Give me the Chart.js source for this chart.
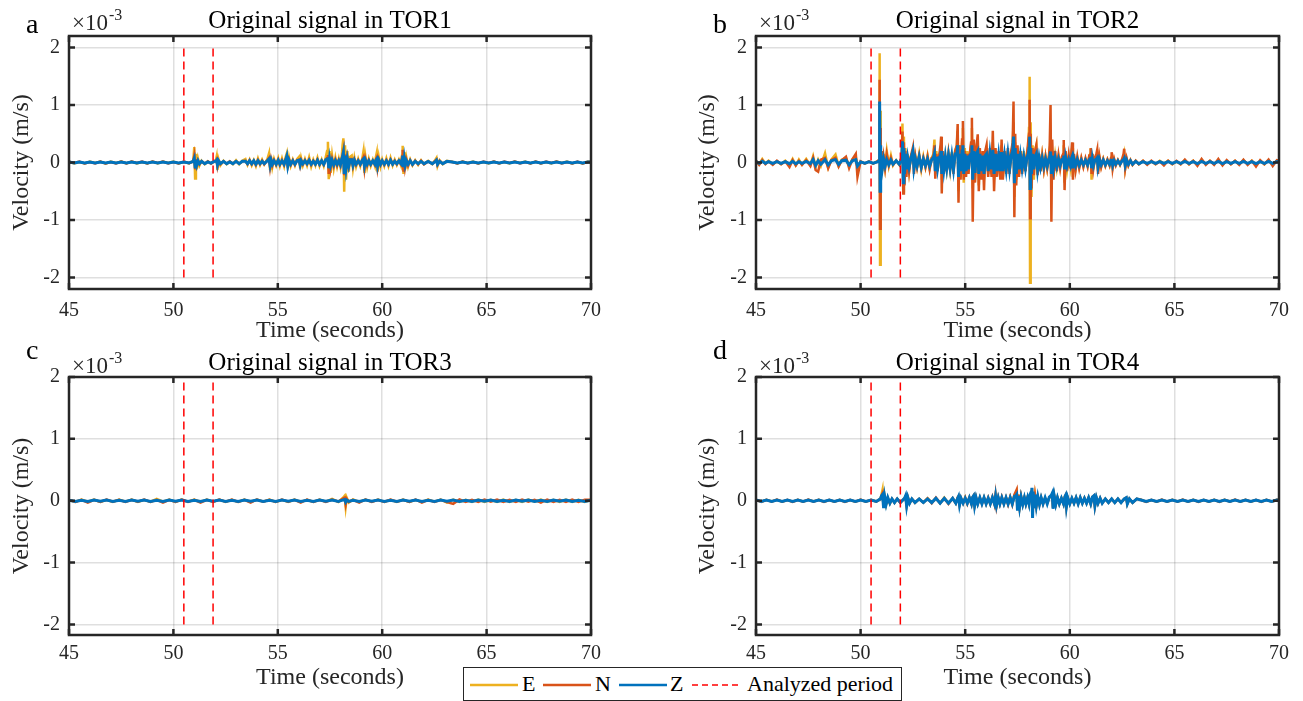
<!DOCTYPE html>
<html>
<head>
<meta charset="utf-8">
<script src="https://cdn.jsdelivr.net/npm/chart.js@4.4.1/dist/chart.umd.min.js"></script>
<style>
  body { margin: 0; background: #fff; width: 1303px; height: 701px; position: relative; overflow: hidden; }
  canvas { position: absolute; }
  #legend {
    position: absolute; left: 463px; top: 667px; width: 437px; height: 32px;
    border: 1.5px solid #262626; background: #fff;
    font-family: "Liberation Serif", "Times New Roman", serif; font-size: 22px; color: #000;
  }
  #legend svg, #legend span { position: absolute; }
  #legend span { top: 3px; line-height: 26px; }
</style>
</head>
<body>
<canvas id="panelA" width="651" height="350" style="left:0px;top:0px"></canvas>
<canvas id="panelB" width="652" height="350" style="left:651px;top:0px"></canvas>
<canvas id="panelC" width="651" height="361" style="left:0px;top:340px"></canvas>
<canvas id="panelD" width="652" height="361" style="left:651px;top:340px"></canvas>

<div id="legend">
  <svg style="left:6px;top:15px" width="50" height="4"><line x1="0" y1="2" x2="48" y2="2" stroke="#EDB120" stroke-width="2.5"/></svg>
  <span style="left:58px">E</span>
  <svg style="left:79px;top:15px" width="50" height="4"><line x1="0" y1="2" x2="48" y2="2" stroke="#D95319" stroke-width="2.5"/></svg>
  <span style="left:131px">N</span>
  <svg style="left:155px;top:15px" width="50" height="4"><line x1="0" y1="2" x2="48" y2="2" stroke="#0072BD" stroke-width="2.5"/></svg>
  <span style="left:206px">Z</span>
  <svg style="left:228px;top:15px" width="50" height="4"><line x1="0" y1="2" x2="47" y2="2" stroke="#ff0000" stroke-width="1.5" stroke-dasharray="6 4"/></svg>
  <span style="left:283px">Analyzed period</span>
</div>

<script>
Chart.defaults.font.family = '"Liberation Serif", "Times New Roman", serif';

// axis ticks
const xTicks = [45, 50, 55, 60, 65, 70];
const yTicks = [-2, -1, 0, 1, 2];

// analyzed period (s) and the span of the dashed markers (x1e-3 m/s)
const analyzedStart = 50.5;
const analyzedEnd = 51.9;
const analyzedSpan = [-2, 2];

// TOR1 (velocity in 1e-3 m/s)
const timeTOR1 = [
  45, 45.25, 45.5, 45.75, 46, 46.25, 46.5, 46.75, 47, 47.25, 47.5, 47.75, 48, 48.25, 48.5, 48.75, 49, 49.25, 49.5, 49.75, 50, 50.25, 50.5, 50.75,
  50.95, 51.0, 51.04, 51.08, 51.12, 51.18, 51.25, 51.35, 51.5, 51.65, 51.8, 51.95,
  52.03, 52.07, 52.11, 52.16, 52.25, 52.4, 52.55, 52.7, 52.85, 53.0, 53.15, 53.3,
  53.45, 53.55, 53.65, 53.75, 53.85, 53.95, 54.05, 54.15, 54.25, 54.35,
  54.5, 54.58, 54.63, 54.68, 54.74, 54.82, 54.92, 55.02, 55.1,
  55.2, 55.3, 55.38, 55.43, 55.48, 55.54, 55.62, 55.72, 55.82, 55.92,
  56.02, 56.07, 56.12, 56.2, 56.3, 56.4, 56.5, 56.6, 56.7, 56.8, 56.9, 57.0, 57.1, 57.2, 57.3,
  57.36, 57.4, 57.44, 57.48, 57.53, 57.6, 57.68, 57.76, 57.84, 57.92, 58.0, 58.06,
  58.1, 58.14, 58.18, 58.22, 58.27, 58.33, 58.4, 58.47, 58.54, 58.6, 58.67, 58.75, 58.85, 58.95,
  59.05, 59.1, 59.15, 59.2, 59.28, 59.36, 59.45, 59.55, 59.65,
  59.7, 59.74, 59.78, 59.84, 59.92, 60.0, 60.1, 60.2, 60.3, 60.4, 60.5, 60.6, 60.7, 60.8, 60.9,
  60.95, 60.98, 61.02, 61.06, 61.1, 61.16, 61.24, 61.34, 61.45, 61.58, 61.72, 61.86, 62.0,
  62.2, 62.4, 62.55, 62.6, 62.65, 62.75, 62.9, 63.1,
  63.35, 63.6, 63.85, 64.1, 64.35, 64.6, 64.85, 65.1, 65.35, 65.6, 65.85, 66.1, 66.35, 66.6, 66.85, 67.1, 67.35, 67.6, 67.85, 68.1, 68.35, 68.6, 68.85, 69.1, 69.35, 69.6, 69.85, 70
];
const eTOR1 = [
  0.015, -0.015, 0.01, -0.015, 0.015, -0.01, 0.015, -0.02, 0.015, -0.01, 0.02, -0.015, 0.015, -0.015, 0.01, -0.015, 0.015, -0.015, 0.015, -0.01, 0.015, -0.015, 0.01, -0.015,
  0.03, 0.27, -0.28, 0.15, -0.12, 0.06, -0.05, 0.03, -0.03, 0.02, -0.02, 0.03,
  0.03, 0.1, -0.13, 0.06, -0.05, 0.03, -0.03, 0.02, -0.03, 0.04, -0.03, 0.03,
  0.06, -0.04, 0.05, -0.05, 0.04, -0.06, 0.07, -0.04, 0.05, -0.03,
  0.06, 0.16, -0.13, 0.1, -0.08, 0.06, -0.05, 0.07, -0.06,
  0.07, -0.06, 0.1, 0.16, -0.09, 0.08, -0.06, 0.05, -0.05, 0.06,
  0.1, -0.1, 0.07, -0.05, 0.06, -0.05, 0.09, -0.07, 0.05, -0.05, 0.08, -0.06, 0.05, -0.06, 0.1,
  0.2, 0.36, -0.29, 0.2, -0.18, 0.12, -0.1, 0.08, -0.07, 0.06, -0.08, 0.1,
  0.3, 0.42, -0.51, 0.3, -0.3, 0.2, -0.16, 0.1, 0.12, -0.1, 0.08, -0.07, 0.06, -0.06,
  0.08, 0.19, -0.18, 0.1, -0.08, 0.06, -0.06, 0.05, -0.06,
  0.1, 0.17, -0.16, 0.09, -0.07, 0.05, -0.06, 0.07, -0.06, 0.08, -0.05, 0.05, -0.04, 0.05, -0.05,
  0.12, 0.29, -0.2, 0.18, -0.12, 0.08, -0.07, 0.05, -0.05, 0.04, -0.04, 0.04, -0.03,
  0.03, -0.03, 0.05, 0.08, -0.06, 0.04, -0.03, 0.03,
  0.015, -0.015, 0.015, -0.01, 0.015, -0.015, 0.01, -0.015, 0.015, -0.015, 0.01, -0.015, 0.015, -0.01, 0.015, -0.015, 0.015, -0.015, 0.01, -0.015, 0.015, -0.01, 0.015, -0.015, 0.01, -0.015, 0.015, 0.01
];
const nTOR1 = [
  0.015, -0.01, 0.015, -0.015, 0.01, -0.015, 0.015, -0.015, 0.01, -0.015, 0.015, -0.015, 0.015, -0.01, 0.015, -0.015, 0.015, -0.01, 0.015, -0.015, 0.01, -0.015, 0.015, -0.01,
  0.02, 0.12, -0.1, 0.06, -0.05, 0.03, -0.03, 0.02, -0.02, 0.02, -0.02, 0.02,
  0.02, 0.05, -0.06, 0.03, -0.03, 0.02, -0.02, 0.02, -0.02, 0.02, -0.02, 0.02,
  0.03, -0.03, 0.04, -0.03, 0.03, -0.04, 0.04, -0.03, 0.03, -0.03,
  0.04, 0.08, -0.08, 0.05, -0.05, 0.04, -0.04, 0.05, -0.04,
  0.04, -0.04, 0.06, 0.1, -0.06, 0.05, -0.04, 0.04, -0.04, 0.04,
  0.05, -0.05, 0.04, -0.03, 0.04, -0.03, 0.05, -0.04, 0.03, -0.03, 0.05, -0.04, 0.03, -0.04, 0.05,
  0.08, 0.13, -0.2, 0.1, -0.1, 0.06, -0.06, 0.05, -0.05, 0.04, -0.05, 0.07,
  0.12, 0.2, -0.22, 0.14, -0.12, 0.08, -0.07, 0.06, 0.06, -0.06, 0.05, -0.04, 0.04, -0.04,
  0.05, 0.09, -0.1, 0.06, -0.05, 0.04, -0.04, 0.03, -0.04,
  0.06, 0.09, -0.09, 0.05, -0.04, 0.03, -0.04, 0.04, -0.04, 0.05, -0.03, 0.03, -0.03, 0.03, -0.03,
  0.1, 0.22, -0.16, 0.12, -0.08, 0.05, -0.05, 0.04, -0.04, 0.03, -0.03, 0.03, -0.03,
  0.02, -0.02, 0.03, 0.05, -0.04, 0.03, -0.02, 0.02,
  0.01, -0.015, 0.015, -0.015, 0.01, -0.015, 0.015, -0.01, 0.015, -0.015, 0.015, -0.01, 0.015, -0.015, 0.01, -0.015, 0.015, -0.015, 0.015, -0.01, 0.015, -0.015, 0.01, -0.015, 0.015, -0.015, 0.01, 0.01
];
const zTOR1 = [
  0.01, -0.01, 0.008, -0.01, 0.01, -0.008, 0.01, -0.01, 0.008, -0.01, 0.01, -0.01, 0.01, -0.008, 0.01, -0.01, 0.008, -0.01, 0.01, -0.01, 0.008, -0.01, 0.01, -0.008,
  0.02, 0.07, -0.08, 0.05, -0.04, 0.03, -0.02, 0.02, -0.02, 0.01, -0.01, 0.02,
  0.02, 0.04, -0.04, 0.03, -0.02, 0.02, -0.02, 0.01, -0.02, 0.02, -0.02, 0.02,
  0.02, -0.02, 0.03, -0.02, 0.03, -0.03, 0.03, -0.02, 0.02, -0.02,
  0.03, 0.06, -0.05, 0.04, -0.03, 0.03, -0.03, 0.04, -0.03,
  0.03, -0.03, 0.05, 0.11, -0.06, 0.04, -0.03, 0.03, -0.03, 0.03,
  0.04, -0.04, 0.03, -0.02, 0.03, -0.02, 0.04, -0.03, 0.02, -0.03, 0.04, -0.03, 0.03, -0.03, 0.05,
  0.05, 0.09, -0.1, 0.06, -0.05, 0.04, -0.04, 0.03, -0.03, 0.03, -0.04, 0.06,
  0.1, 0.17, -0.2, 0.12, -0.1, 0.07, -0.06, 0.05, 0.05, -0.05, 0.04, -0.03, 0.03, -0.03,
  0.04, 0.06, -0.06, 0.04, -0.03, 0.03, -0.03, 0.03, -0.03,
  0.04, 0.06, -0.06, 0.04, -0.03, 0.03, -0.03, 0.03, -0.03, 0.04, -0.03, 0.02, -0.02, 0.03, -0.02,
  0.05, 0.12, -0.08, 0.06, -0.05, 0.03, -0.03, 0.03, -0.03, 0.02, -0.02, 0.02, -0.02,
  0.02, -0.02, 0.02, 0.04, -0.03, 0.02, -0.02, 0.02,
  0.008, -0.01, 0.01, -0.008, 0.01, -0.01, 0.008, -0.01, 0.01, -0.008, 0.01, -0.01, 0.008, -0.01, 0.01, -0.01, 0.008, -0.01, 0.01, -0.008, 0.01, -0.01, 0.008, -0.01, 0.01, -0.008, 0.01, 0.008
];

// TOR2
const timeTOR2 = [
  45.0, 45.15, 45.3, 45.45, 45.6, 45.8, 46.0, 46.2, 46.4, 46.6, 46.75, 46.9, 47.05, 47.2, 47.4, 47.6, 47.73, 47.85, 47.97, 48.1,
  48.3, 48.45, 48.6, 48.8, 48.95, 49.1, 49.3, 49.45, 49.6, 49.77, 49.85, 50.0, 50.2, 50.4, 50.6, 50.8,
  50.88, 50.91, 50.93, 50.95, 50.97, 51.0, 51.04, 51.1, 51.17, 51.25, 51.35, 51.45, 51.55, 51.7, 51.85,
  51.97, 52.0, 52.04, 52.07, 52.1, 52.14, 52.19, 52.25, 52.32, 52.4, 52.5, 52.55, 52.62, 52.7, 52.8, 52.9, 53.0, 53.1, 53.2, 53.3, 53.4,
  53.48, 53.53, 53.57, 53.62, 53.68, 53.75, 53.82, 53.85, 53.88, 53.92, 53.98, 54.05, 54.12, 54.2, 54.28, 54.36, 54.44, 54.52,
  54.6, 54.64, 54.68, 54.72, 54.78, 54.85, 54.89, 54.93, 54.98, 55.04, 55.1, 55.16, 55.22,
  55.28, 55.32, 55.36, 55.41, 55.47, 55.53, 55.6, 55.65, 55.7, 55.77, 55.84, 55.9, 55.96, 56.02, 56.1, 56.18, 56.26, 56.32, 56.38, 56.45,
  56.52, 56.6, 56.68, 56.74, 56.8, 56.88, 56.96, 57.04, 57.12, 57.2,
  57.27, 57.31, 57.35, 57.39, 57.44, 57.5, 57.57, 57.64, 57.72, 57.8, 57.88, 57.95, 58.02,
  58.05, 58.08, 58.1, 58.13, 58.17, 58.22, 58.28, 58.34, 58.4, 58.46, 58.53, 58.6, 58.68, 58.76, 58.84, 58.92, 59.0,
  59.04, 59.08, 59.12, 59.16, 59.22, 59.3, 59.38, 59.46, 59.54, 59.62,
  59.68, 59.71, 59.75, 59.8, 59.87, 59.95, 60.03, 60.08, 60.11, 60.15, 60.2, 60.28, 60.36, 60.45, 60.55, 60.65, 60.75, 60.85, 60.93,
  60.97, 61.0, 61.04, 61.08, 61.13, 61.2, 61.27, 61.31, 61.35, 61.42, 61.5, 61.6, 61.7, 61.8, 61.9,
  61.97, 62.0, 62.05, 62.12, 62.2, 62.3, 62.4, 62.5, 62.57, 62.6, 62.65, 62.72, 62.8, 62.9, 63.0, 63.15, 63.3,
  63.5, 63.7, 63.9, 64.1, 64.3, 64.5, 64.7, 64.9, 65.1, 65.3, 65.5, 65.7, 65.9, 66.1, 66.3, 66.5, 66.7,
  66.9, 67.1, 67.3, 67.5, 67.7, 67.9, 68.1, 68.3, 68.5, 68.7, 68.9, 69.1, 69.3, 69.5, 69.7, 69.9, 70.0
];
const eTOR2 = [
  0.03, -0.03, 0.06, -0.02, 0.03, -0.03, 0.02, -0.03, 0.03, -0.04, 0.06, -0.05, 0.05, -0.04, 0.06, -0.05, 0.11, -0.08, 0.05, -0.06,
  0.16, -0.09, 0.05, 0.14, -0.06, 0.05, 0.08, -0.06, 0.05, 0.1, -0.08, 0.02, -0.02, 0.02, -0.02, 0.02,
  0.03, 1.9, -1.78, 0.9, -0.4, 0.2, -0.15, 0.15, -0.08, 0.2, -0.06, 0.12, -0.05, 0.04, -0.04,
  0.1, 0.68, -0.5, 0.45, -0.35, 0.25, -0.2, 0.15, -0.15, 0.1, 0.2, -0.1, 0.1, -0.08, 0.15, -0.12, 0.1, -0.08, 0.12, -0.1, 0.08,
  0.15, 0.4, -0.2, 0.2, -0.15, 0.12, 0.2, 0.3, -0.3, 0.15, -0.15, 0.1, -0.12, 0.15, -0.12, 0.18, -0.15, 0.2,
  0.3, 0.55, -0.5, 0.3, -0.25, 0.35, 0.6, -0.35, 0.25, -0.2, 0.2, -0.15, 0.15,
  0.3, 0.6, -0.45, 0.3, -0.3, 0.25, 0.4, -0.4, 0.2, -0.25, 0.2, -0.3, 0.15, 0.25, -0.2, 0.2, -0.2, 0.35, -0.3, 0.2,
  -0.2, 0.15, -0.2, 0.3, -0.25, 0.15, -0.15, 0.2, -0.15, 0.15,
  0.3, 0.7, -0.6, 0.35, -0.3, 0.25, -0.2, 0.2, -0.15, 0.2, -0.15, 0.15, 0.3,
  0.6, 1.49, -2.09, 0.7, -0.6, 0.3, -0.3, 0.2, 0.3, -0.2, 0.15, -0.15, 0.12, -0.12, 0.1, -0.1, 0.1,
  0.2, 0.45, -0.35, 0.2, -0.15, 0.12, -0.1, 0.1, -0.08, 0.08,
  0.1, 0.3, -0.35, 0.15, -0.12, 0.1, -0.08, 0.15, 0.25, -0.25, 0.12, -0.1, 0.08, -0.08, 0.07, -0.07, 0.06, -0.06, 0.1,
  0.15, 0.25, -0.3, 0.15, -0.12, 0.08, 0.12, 0.15, -0.15, 0.08, -0.07, 0.06, -0.06, 0.05, -0.05,
  0.06, 0.12, -0.08, 0.05, -0.04, 0.04, -0.04, 0.05, 0.1, 0.15, -0.1, 0.06, -0.05, 0.04, -0.04, 0.03, -0.03,
  0.03, -0.03, 0.02, -0.03, 0.03, -0.02, 0.03, -0.03, 0.02, -0.03, 0.04, -0.03, 0.03, -0.04, 0.05, -0.03, 0.03,
  -0.03, 0.04, -0.04, 0.03, -0.03, 0.03, -0.03, 0.04, -0.03, 0.03, -0.04, 0.03, -0.03, 0.04, -0.03, 0.03, 0.02
];
const nTOR2 = [
  0.03, -0.04, 0.04, -0.03, 0.02, -0.04, 0.03, -0.03, 0.02, -0.08, 0.04, -0.05, 0.03, -0.04, 0.04, -0.06, 0.08, -0.13, -0.16, 0.05,
  0.08, -0.1, 0.04, 0.08, -0.07, 0.04, 0.1, -0.1, 0.05, 0.15, -0.25, 0.02, -0.02, 0.02, -0.02, 0.02,
  0.05, 1.44, -1.15, 0.6, -0.3, 0.2, -0.12, 0.1, -0.1, 0.15, -0.05, 0.08, -0.04, 0.03, -0.03,
  0.1, 0.54, -0.54, 0.35, -0.4, 0.2, -0.25, 0.12, -0.15, 0.1, 0.26, -0.2, 0.1, -0.08, 0.12, -0.1, 0.08, -0.08, 0.1, -0.12, 0.08,
  0.1, 0.3, -0.28, 0.15, -0.15, 0.1, 0.3, 0.45, -0.54, 0.2, -0.2, 0.12, -0.15, 0.15, -0.1, 0.15, -0.2, 0.2,
  0.3, 0.67, -0.7, 0.3, -0.3, 0.4, 0.72, -0.3, 0.2, -0.25, 0.15, -0.2, 0.15,
  0.35, 0.78, -1.03, 0.4, -0.35, 0.25, 0.49, -0.5, 0.25, -0.3, 0.2, -0.48, 0.2, 0.3, -0.25, 0.25, -0.25, 0.55, -0.5, 0.25,
  -0.25, 0.2, -0.3, 0.4, -0.3, 0.2, -0.2, 0.25, -0.2, 0.2,
  0.35, 1.06, -0.95, 0.5, -0.4, 0.3, -0.25, 0.2, -0.2, 0.15, -0.15, 0.12, 0.4,
  0.5, 1.09, -0.97, 0.5, -0.45, 0.25, -0.22, 0.2, 0.3, -0.22, 0.15, -0.15, 0.12, -0.12, 0.1, -0.1, 0.1,
  0.3, 1.0, -1.03, 0.4, -0.3, 0.2, -0.15, 0.12, -0.1, 0.1,
  0.15, 0.39, -0.48, 0.2, -0.15, 0.12, -0.1, 0.2, 0.35, -0.3, 0.15, -0.12, 0.1, -0.1, 0.08, -0.08, 0.07, -0.07, 0.12,
  0.12, 0.25, -0.2, 0.15, -0.1, 0.08, 0.15, 0.22, -0.2, 0.1, -0.08, 0.06, -0.06, 0.05, -0.05,
  0.08, 0.18, -0.1, 0.06, -0.05, 0.04, -0.04, 0.06, 0.15, 0.24, -0.1, 0.07, -0.05, 0.04, -0.04, 0.03, -0.03,
  0.03, -0.04, 0.03, -0.03, 0.02, -0.05, 0.03, -0.03, 0.03, -0.03, 0.05, -0.03, 0.03, -0.06, 0.06, -0.04, 0.03,
  -0.04, 0.06, -0.05, 0.04, -0.03, 0.03, -0.04, 0.05, -0.04, 0.03, -0.07, 0.04, -0.03, 0.05, -0.06, 0.04, 0.03
];
const zTOR2 = [
  0.015, -0.015, 0.02, -0.015, 0.015, -0.015, 0.015, -0.015, 0.015, -0.02, 0.02, -0.02, 0.015, -0.015, 0.02, -0.02, 0.05, -0.05, 0.03, -0.03,
  0.05, -0.04, 0.03, 0.05, -0.03, 0.03, 0.04, -0.04, 0.03, 0.05, -0.06, 0.01, -0.01, 0.01, -0.01, 0.01,
  0.03, 1.06, -0.5, 0.3, -0.2, 0.12, -0.1, 0.06, -0.06, 0.05, -0.04, 0.04, -0.03, 0.03, -0.03,
  0.08, 0.37, -0.35, 0.25, -0.2, 0.15, -0.12, 0.08, -0.08, 0.06, 0.2, -0.1, 0.06, -0.06, 0.1, -0.08, 0.06, -0.05, 0.06, -0.06, 0.05,
  0.08, 0.15, -0.15, 0.1, -0.1, 0.08, 0.12, 0.2, -0.2, 0.12, -0.12, 0.1, -0.1, 0.12, -0.1, 0.12, -0.12, 0.15,
  0.15, 0.3, -0.25, 0.15, -0.15, 0.2, 0.3, -0.2, 0.15, -0.15, 0.12, -0.12, 0.12,
  0.15, 0.3, -0.3, 0.2, -0.18, 0.15, 0.2, -0.2, 0.15, -0.15, 0.12, -0.2, 0.12, 0.15, -0.15, 0.15, -0.12, 0.22, -0.2, 0.15,
  -0.15, 0.12, -0.15, 0.18, -0.15, 0.12, -0.12, 0.15, -0.12, 0.12,
  0.2, 0.45, -0.36, 0.25, -0.2, 0.15, -0.12, 0.12, -0.1, 0.1, -0.1, 0.08, 0.15,
  0.25, 0.45, -0.45, 0.25, -0.2, 0.15, -0.12, 0.1, 0.15, -0.12, 0.08, -0.08, 0.07, -0.07, 0.06, -0.06, 0.06,
  0.1, 0.19, -0.2, 0.12, -0.1, 0.08, -0.07, 0.06, -0.05, 0.05,
  0.06, 0.12, -0.12, 0.08, -0.06, 0.05, -0.05, 0.07, 0.1, -0.1, 0.06, -0.05, 0.05, -0.05, 0.04, -0.04, 0.04, -0.04, 0.05,
  0.06, 0.1, -0.1, 0.06, -0.05, 0.04, 0.06, 0.08, -0.08, 0.05, -0.04, 0.04, -0.04, 0.03, -0.03,
  0.04, 0.06, -0.05, 0.03, -0.03, 0.03, -0.03, 0.03, 0.05, 0.07, -0.05, 0.04, -0.03, 0.03, -0.03, 0.02, -0.02,
  0.015, -0.015, 0.015, -0.015, 0.015, -0.015, 0.015, -0.015, 0.015, -0.015, 0.02, -0.015, 0.015, -0.02, 0.02, -0.015, 0.015,
  -0.015, 0.02, -0.02, 0.015, -0.015, 0.015, -0.015, 0.02, -0.015, 0.015, -0.02, 0.015, -0.015, 0.02, -0.015, 0.015, 0.01
];

// TOR3
const timeTOR3 = [
  45.0, 45.3, 45.6, 45.9, 46.2, 46.5, 46.8, 47.1, 47.4, 47.7, 48.0,
  48.3, 48.6, 48.9, 49.2, 49.5, 49.8, 50.1, 50.4, 50.7, 51.0, 51.3,
  51.6, 51.9, 52.2, 52.5, 52.8, 53.1, 53.4, 53.7, 54.0, 54.3, 54.6,
  54.9, 55.2, 55.5, 55.8, 56.1, 56.4, 56.7, 57.0, 57.3, 57.6, 57.9,
  58.1, 58.2, 58.25, 58.3, 58.4, 58.6, 58.9, 59.2, 59.5, 59.8, 60.1,
  60.4, 60.7, 61.0, 61.3, 61.6, 61.9, 62.2, 62.5, 62.8, 63.1, 63.4,
  63.7, 64.0, 64.3, 64.6, 64.9, 65.2, 65.5, 65.8, 66.1, 66.4, 66.7,
  67.0, 67.3, 67.6, 67.9, 68.2, 68.5, 68.8, 69.1, 69.4, 69.7, 70.0
];
const eTOR3 = [
  0.015, -0.02, 0.02, -0.015, 0.02, -0.02, 0.015, -0.02, 0.02, -0.015, 0.02,
  -0.02, 0.015, -0.02, 0.03, -0.015, 0.02, -0.02, 0.02, -0.015, 0.02, -0.02,
  0.02, -0.015, 0.02, -0.02, 0.015, -0.02, 0.02, -0.02, 0.02, -0.015, 0.02,
  -0.02, 0.015, -0.02, 0.02, -0.02, 0.015, -0.02, 0.02, -0.015, 0.03, -0.02,
  0.04, 0.08, -0.1, 0.05, -0.03, 0.02, -0.02, 0.02, -0.015, 0.02, -0.02,
  0.015, -0.02, 0.02, -0.02, 0.015, -0.02, 0.02, -0.015, 0.02, -0.03, 0.02,
  -0.02, 0.015, -0.02, 0.02, -0.02, 0.015, -0.02, 0.02, -0.02, 0.015, -0.02,
  0.02, -0.015, 0.02, -0.02, 0.015, -0.02, 0.02, -0.02, 0.015, -0.02, 0.015
];
const nTOR3 = [
  0.015, -0.02, 0.015, -0.03, 0.015, -0.02, 0.02, -0.015, 0.015, -0.02, 0.015,
  -0.015, 0.02, -0.02, 0.015, -0.03, 0.015, -0.02, 0.02, -0.02, 0.015, -0.03,
  0.015, -0.02, 0.02, -0.015, 0.02, -0.02, 0.015, -0.03, 0.02, -0.015, 0.015,
  -0.02, 0.02, -0.015, 0.015, -0.03, 0.02, -0.02, 0.015, -0.02, 0.02, -0.015,
  0.03, 0.05, -0.06, 0.03, -0.02, 0.015, -0.03, 0.02, -0.02, 0.015, -0.02,
  0.02, -0.015, 0.015, -0.02, 0.02, -0.03, 0.015, -0.02, 0.015, -0.02, -0.05,
  0.02, -0.02, 0.015, -0.02, 0.02, -0.015, 0.02, -0.02, 0.015, -0.02, 0.02,
  -0.015, 0.015, -0.03, 0.02, -0.02, 0.015, -0.02, 0.02, -0.02, 0.015, 0.015
];
const zTOR3 = [
  0.01, -0.01, 0.008, -0.01, 0.01, -0.008, 0.01, -0.01, 0.008, -0.01, 0.01,
  -0.008, 0.01, -0.01, 0.008, -0.01, 0.01, -0.008, 0.01, -0.01, 0.008, -0.01,
  0.01, -0.008, 0.01, -0.01, 0.008, -0.01, 0.01, -0.008, 0.01, -0.01, 0.008,
  -0.01, 0.01, -0.008, 0.01, -0.01, 0.008, -0.01, 0.01, -0.008, 0.01, -0.01,
  0.01, 0.02, -0.02, 0.01, -0.01, 0.008, -0.01, 0.01, -0.008, 0.01, -0.01,
  0.008, -0.01, 0.01, -0.008, 0.01, -0.01, 0.008, -0.01, 0.01, -0.008, 0.01,
  -0.01, 0.008, -0.01, 0.01, -0.008, 0.01, -0.01, 0.008, -0.01, 0.01, -0.008,
  0.01, -0.01, 0.008, -0.01, 0.01, -0.008, 0.01, -0.01, 0.008, -0.01, 0.008
];

// TOR4
const timeTOR4 = [
  45, 45.25, 45.5, 45.75, 46, 46.25, 46.5, 46.75, 47, 47.25, 47.5, 47.75, 48, 48.25, 48.5, 48.75, 49, 49.25, 49.5, 49.75, 50, 50.25, 50.5, 50.75,
  50.95, 51.0, 51.05, 51.1, 51.15, 51.22, 51.3, 51.4, 51.5, 51.62, 51.75, 51.9,
  52.1, 52.15, 52.2, 52.26, 52.34, 52.45, 52.6, 52.8, 53.0, 53.2, 53.4, 53.6, 53.8, 54.0, 54.2, 54.4, 54.55,
  54.64, 54.68, 54.73, 54.8, 54.9, 55.0, 55.1, 55.2, 55.3, 55.36, 55.4, 55.45, 55.52, 55.6, 55.7, 55.8, 55.9, 56.0, 56.1, 56.2,
  56.3, 56.4, 56.45, 56.5, 56.58, 56.66, 56.75, 56.85, 56.95, 57.05, 57.15, 57.25, 57.35,
  57.42, 57.46, 57.5, 57.54, 57.6, 57.67, 57.75, 57.83, 57.9, 57.98, 58.05, 58.1,
  58.15, 58.19, 58.22, 58.25, 58.29, 58.34, 58.4, 58.47, 58.55, 58.63, 58.72, 58.82, 58.92, 59.02,
  59.12, 59.16, 59.2, 59.26, 59.33, 59.41, 59.5, 59.6, 59.7, 59.77, 59.8, 59.84, 59.9, 60.0, 60.1, 60.2, 60.3, 60.4, 60.5, 60.6,
  60.7, 60.8, 60.9, 61.0, 61.08, 61.15, 61.2, 61.27, 61.35, 61.45, 61.55, 61.7, 61.85, 62.0, 62.15, 62.3, 62.45, 62.6, 62.7, 62.75,
  62.85, 63.0, 63.2,
  63.4, 63.65, 63.9, 64.15, 64.4, 64.65, 64.9, 65.15, 65.4, 65.65, 65.9, 66.15, 66.4, 66.65, 66.9, 67.15, 67.4, 67.65, 67.9, 68.15, 68.4, 68.65, 68.9, 69.15, 69.4, 69.65, 69.9, 70
];
const eTOR4 = [
  0.015, -0.015, 0.015, -0.01, 0.015, -0.015, 0.01, -0.015, 0.015, -0.015, 0.015, -0.01, 0.015, -0.015, 0.01, -0.015, 0.015, -0.015, 0.01, -0.015, 0.015, -0.015, 0.015, -0.01,
  0.03, 0.1, 0.18, -0.1, 0.08, -0.06, 0.05, -0.04, 0.03, -0.03, 0.03, -0.03,
  0.04, 0.07, -0.07, 0.05, -0.04, 0.03, -0.03, 0.03, -0.03, 0.04, -0.03, 0.04, -0.04, 0.05, -0.04, 0.04, -0.04,
  0.05, 0.07, -0.06, 0.04, -0.04, 0.05, -0.04, 0.05, -0.05, 0.06, 0.08, -0.07, 0.05, -0.05, 0.05, -0.04, 0.05, -0.05, 0.04, -0.05,
  0.05, -0.05, 0.08, -0.07, 0.05, -0.05, 0.05, -0.05, 0.05, -0.05, 0.06, -0.05, 0.08,
  0.12, 0.15, -0.15, 0.1, -0.1, 0.07, -0.06, 0.05, -0.05, 0.05, -0.05, 0.08,
  0.12, 0.18, -0.2, 0.12, -0.1, 0.08, -0.08, 0.06, -0.05, 0.05, -0.05, 0.04, -0.04, 0.05,
  0.08, 0.1, -0.1, 0.07, -0.06, 0.05, -0.05, 0.04, -0.05, 0.07, 0.08, -0.08, 0.05, -0.05, 0.04, -0.04, 0.05, -0.04, 0.05, -0.04,
  0.04, -0.04, 0.05, -0.05, 0.06, 0.07, -0.08, 0.05, -0.04, 0.04, -0.03, 0.03, -0.03, 0.03, -0.03, 0.03, -0.03, 0.03, 0.05, -0.05,
  0.03, -0.03, 0.03,
  0.015, -0.015, 0.01, -0.015, 0.015, -0.015, 0.015, -0.01, 0.015, -0.015, 0.015, -0.015, 0.01, -0.015, 0.015, -0.015, 0.015, -0.01, 0.015, -0.015, 0.015, -0.015, 0.01, -0.015, 0.015, -0.015, 0.015, 0.01
];
const nTOR4 = [
  0.015, -0.02, 0.015, -0.015, 0.02, -0.015, 0.015, -0.02, 0.015, -0.015, 0.02, -0.015, 0.015, -0.02, 0.015, -0.015, 0.015, -0.02, 0.015, -0.015, 0.02, -0.015, 0.015, -0.015,
  0.03, 0.08, 0.12, -0.1, 0.06, -0.05, 0.04, -0.04, 0.03, -0.03, 0.03, -0.03,
  0.04, 0.07, -0.08, 0.05, -0.04, 0.03, -0.03, 0.03, -0.03, 0.04, -0.04, 0.05, -0.04, 0.04, -0.05, 0.04, -0.04,
  0.05, 0.07, -0.06, 0.04, -0.04, 0.05, -0.05, 0.05, -0.05, 0.06, 0.08, -0.08, 0.05, -0.05, 0.05, -0.05, 0.05, -0.05, 0.05, -0.05,
  0.06, -0.06, 0.09, -0.09, 0.05, -0.05, 0.06, -0.05, 0.05, -0.06, 0.06, -0.06, 0.1,
  0.15, 0.18, -0.14, 0.1, -0.1, 0.07, -0.06, 0.05, -0.05, 0.05, -0.05, 0.08,
  0.12, 0.2, -0.22, 0.12, -0.12, 0.08, -0.08, 0.06, -0.06, 0.05, -0.05, 0.04, -0.04, 0.05,
  0.08, 0.11, -0.12, 0.07, -0.06, 0.05, -0.05, 0.04, -0.05, 0.07, 0.09, -0.09, 0.05, -0.05, 0.04, -0.04, 0.05, -0.05, 0.05, -0.04,
  0.04, -0.04, 0.05, -0.05, 0.06, 0.08, -0.09, 0.05, -0.04, 0.04, -0.04, 0.03, -0.03, 0.03, -0.03, 0.03, -0.03, 0.03, 0.05, -0.05,
  0.03, -0.03, 0.03,
  0.015, -0.02, 0.015, -0.015, 0.02, -0.015, 0.015, -0.015, 0.02, -0.015, 0.015, -0.02, 0.015, -0.015, 0.015, -0.02, 0.015, -0.015, 0.02, -0.015, 0.015, -0.015, 0.015, -0.02, 0.015, -0.015, 0.015, 0.01
];
const zTOR4 = [
  0.012, -0.012, 0.01, -0.012, 0.012, -0.012, 0.012, -0.01, 0.012, -0.012, 0.012, -0.012, 0.01, -0.012, 0.012, -0.012, 0.012, -0.01, 0.012, -0.012, 0.012, -0.012, 0.01, -0.012,
  0.03, 0.08, 0.1, -0.12, 0.07, -0.06, 0.05, -0.04, 0.03, -0.03, 0.03, -0.03,
  0.04, 0.08, -0.08, 0.05, -0.04, 0.03, -0.03, 0.03, -0.03, 0.03, -0.03, 0.04, -0.04, 0.04, -0.04, 0.04, -0.04,
  0.04, 0.07, -0.07, 0.04, -0.04, 0.04, -0.04, 0.05, -0.05, 0.06, 0.08, -0.08, 0.05, -0.05, 0.05, -0.05, 0.05, -0.05, 0.04, -0.05,
  0.05, -0.05, 0.07, -0.07, 0.05, -0.05, 0.05, -0.05, 0.05, -0.05, 0.05, -0.05, 0.07,
  0.08, 0.1, -0.16, 0.08, -0.1, 0.06, -0.06, 0.05, -0.05, 0.05, -0.05, 0.1,
  0.14, 0.21, -0.28, 0.15, -0.12, 0.1, -0.08, 0.07, -0.06, 0.05, -0.05, 0.05, -0.05, 0.06,
  0.09, 0.12, -0.13, 0.07, -0.06, 0.05, -0.05, 0.04, -0.05, 0.07, 0.09, -0.09, 0.05, -0.05, 0.04, -0.04, 0.05, -0.05, 0.05, -0.04,
  0.04, -0.04, 0.05, -0.05, 0.06, 0.08, -0.08, 0.05, -0.04, 0.04, -0.04, 0.03, -0.03, 0.03, -0.03, 0.03, -0.03, 0.03, 0.05, -0.05,
  0.03, -0.03, 0.03,
  0.012, -0.012, 0.012, -0.01, 0.012, -0.012, 0.012, -0.012, 0.01, -0.012, 0.012, -0.012, 0.012, -0.01, 0.012, -0.012, 0.012, -0.012, 0.01, -0.012, 0.012, -0.012, 0.012, -0.01, 0.012, -0.012, 0.012, 0.01
];

const textColor = "#262626";
const gridColor = "rgba(38,38,38,0.15)";

// frame, inward tick marks, title, panel letter and the x10^-3 multiplier
const framePlugin = {
  id: "frame",
  afterDraw(chart, args, opts) {
    const ctx = chart.ctx;
    const area = chart.chartArea;
    const xs = chart.scales.x;
    const ys = chart.scales.y;
    ctx.save();
    ctx.strokeStyle = textColor;
    ctx.lineWidth = 2.5;
    ctx.beginPath();
    for (const v of xTicks) {
      const px = xs.getPixelForValue(v);
      ctx.moveTo(px, area.top);
      ctx.lineTo(px, area.top + 6);
      ctx.moveTo(px, area.bottom);
      ctx.lineTo(px, area.bottom - 6);
    }
    for (const v of yTicks) {
      const py = ys.getPixelForValue(v);
      ctx.moveTo(area.left, py);
      ctx.lineTo(area.left + 6, py);
      ctx.moveTo(area.right, py);
      ctx.lineTo(area.right - 6, py);
    }
    ctx.stroke();
    ctx.strokeRect(area.left, area.top, area.right - area.left, area.bottom - area.top);

    ctx.fillStyle = "#000";
    ctx.textBaseline = "alphabetic";
    ctx.textAlign = "center";
    ctx.font = '25px "Liberation Serif"';
    ctx.fillText(opts.title, (area.left + area.right) / 2, opts.titleY);

    ctx.textAlign = "left";
    ctx.font = '28px "Liberation Serif"';
    ctx.fillText(opts.letter, opts.letterX, opts.letterY);

    ctx.fillStyle = textColor;
    ctx.font = '23px "Liberation Serif"';
    ctx.fillText("\u00d710", area.left + 3, opts.expY);
    const w = ctx.measureText("\u00d710").width;
    ctx.font = '16px "Liberation Serif"';
    ctx.fillText("-3", area.left + 4 + w, opts.expY - 10);
    ctx.restore();
  },
};

function toPoints(t, v) {
  return t.map((x, i) => ({ x: x, y: v[i] }));
}

function makePanel(id, p) {
  const tickFont = { size: 20 };
  const labelFont = { size: 24 };
  new Chart(document.getElementById(id), {
    type: "line",
    data: {
      datasets: [
        {
          label: "Analyzed period",
          data: [{ x: analyzedStart, y: analyzedSpan[0] }, { x: analyzedStart, y: analyzedSpan[1] }],
          borderColor: "#ff0000", borderWidth: 1.5, borderDash: [8, 5], order: 0,
        },
        {
          label: "Analyzed period end",
          data: [{ x: analyzedEnd, y: analyzedSpan[0] }, { x: analyzedEnd, y: analyzedSpan[1] }],
          borderColor: "#ff0000", borderWidth: 1.5, borderDash: [8, 5], order: 0,
        },
        { label: "Z", data: toPoints(p.time, p.z), borderColor: "#0072BD", borderWidth: 3, order: 1 },
        { label: "N", data: toPoints(p.time, p.n), borderColor: "#D95319", borderWidth: 2.5, order: 2 },
        { label: "E", data: toPoints(p.time, p.e), borderColor: "#EDB120", borderWidth: 2.5, order: 3 },
      ],
    },
    options: {
      responsive: false,
      animation: false,
      devicePixelRatio: 1,
      elements: { point: { radius: 0 }, line: { tension: 0 } },
      layout: { padding: { top: p.padTop, right: p.padRight, left: 0, bottom: 0 } },
      plugins: {
        legend: { display: false },
        tooltip: { enabled: false },
        frame: p.frame,
      },
      scales: {
        x: {
          type: "linear",
          min: 45,
          max: 70,
          afterBuildTicks: (s) => { s.ticks = xTicks.map((v) => ({ value: v })); },
          afterFit: (s) => { s.height = p.xAxisHeight; },
          grid: { color: gridColor, lineWidth: 1.5, drawTicks: false },
          border: { display: false },
          ticks: { font: tickFont, color: textColor, padding: p.xTickPad, maxRotation: 0 },
          title: { display: true, text: "Time (seconds)", font: labelFont, color: textColor, padding: { top: 0, bottom: p.xTitlePad } },
        },
        y: {
          type: "linear",
          min: p.yMin,
          max: p.yMax,
          afterBuildTicks: (s) => { s.ticks = yTicks.map((v) => ({ value: v })); },
          afterFit: (s) => { s.width = p.yAxisWidth; },
          grid: { color: gridColor, lineWidth: 1.5, drawTicks: false },
          border: { display: false },
          ticks: { font: tickFont, color: textColor, padding: 9 },
          title: { display: true, text: "Velocity (m/s)", font: labelFont, color: textColor, padding: { top: p.yTitlePad, bottom: 0 } },
        },
      },
    },
    plugins: [framePlugin],
  });
}

makePanel("panelA", {
  time: timeTOR1, e: eTOR1, n: nTOR1, z: zTOR1,
  yMin: -2.2, yMax: 2.2, padTop: 36, padRight: 60, yAxisWidth: 69, xAxisHeight: 61,
  xTickPad: 10, xTitlePad: 5, yTitlePad: 7,
  frame: { title: "Original signal in TOR1", letter: "a", letterX: 26, letterY: 33, titleY: 28, expY: 30 },
});
makePanel("panelB", {
  time: timeTOR2, e: eTOR2, n: nTOR2, z: zTOR2,
  yMin: -2.2, yMax: 2.2, padTop: 36, padRight: 24, yAxisWidth: 105, xAxisHeight: 61,
  xTickPad: 10, xTitlePad: 5, yTitlePad: 42,
  frame: { title: "Original signal in TOR2", letter: "b", letterX: 62, letterY: 33, titleY: 28, expY: 30 },
});
makePanel("panelC", {
  time: timeTOR3, e: eTOR3, n: nTOR3, z: zTOR3,
  yMin: -2.17, yMax: 2, padTop: 37, padRight: 60, yAxisWidth: 69, xAxisHeight: 66,
  xTickPad: 7, xTitlePad: 9, yTitlePad: 7,
  frame: { title: "Original signal in TOR3", letter: "c", letterX: 26, letterY: 19, titleY: 30, expY: 33 },
});
makePanel("panelD", {
  time: timeTOR4, e: eTOR4, n: nTOR4, z: zTOR4,
  yMin: -2.17, yMax: 2, padTop: 37, padRight: 24, yAxisWidth: 105, xAxisHeight: 66,
  xTickPad: 7, xTitlePad: 9, yTitlePad: 42,
  frame: { title: "Original signal in TOR4", letter: "d", letterX: 62, letterY: 19, titleY: 30, expY: 33 },
});
</script>
</body>
</html>
